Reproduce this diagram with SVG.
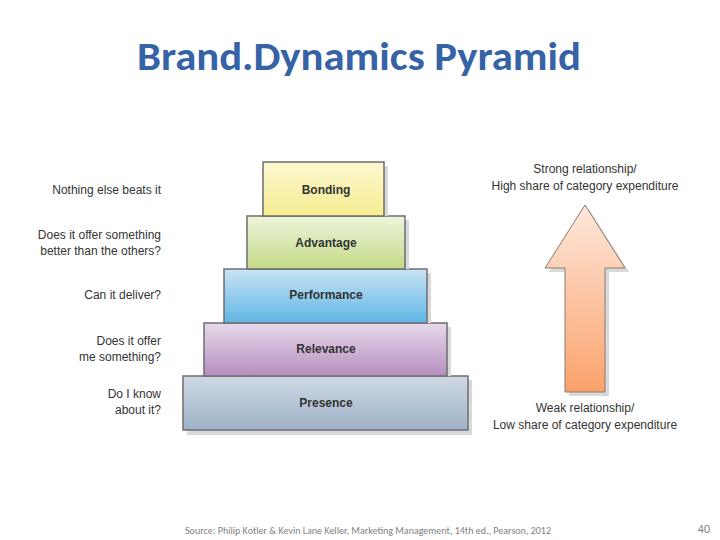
<svg xmlns="http://www.w3.org/2000/svg" width="720" height="540" viewBox="0 0 720 540">
<style>
.lay{stroke:#6d6e71;stroke-width:1.5}
.lt{font-family:"Liberation Sans",Arial,sans-serif;font-size:12px;font-weight:bold;fill:#333;text-anchor:middle}
.q{font-family:"Liberation Sans",Arial,sans-serif;font-size:12px;fill:#333;text-anchor:end}
.r{font-family:"Liberation Sans",Arial,sans-serif;font-size:12px;fill:#333;text-anchor:middle}
.sh{fill:#d9d9d9}
</style>
<defs>
<linearGradient id="g1" x1="0" y1="0" x2="0" y2="1"><stop offset="0" stop-color="#fdf8d0"/><stop offset="1" stop-color="#f6ec90"/></linearGradient>
<linearGradient id="g2" x1="0" y1="0" x2="0" y2="1"><stop offset="0" stop-color="#eef5dc"/><stop offset="1" stop-color="#c3da87"/></linearGradient>
<linearGradient id="g3" x1="0" y1="0" x2="0" y2="1"><stop offset="0" stop-color="#c9e4f5"/><stop offset="1" stop-color="#5fb6e4"/></linearGradient>
<linearGradient id="g4" x1="0" y1="0" x2="0" y2="1"><stop offset="0" stop-color="#e8d9ea"/><stop offset="1" stop-color="#b68fc0"/></linearGradient>
<linearGradient id="g5" x1="0" y1="0" x2="0" y2="1"><stop offset="0" stop-color="#cfd9e4"/><stop offset="1" stop-color="#9fb2c8"/></linearGradient>
<linearGradient id="ga" x1="0" y1="0" x2="0" y2="1"><stop offset="0" stop-color="#fde8dc"/><stop offset="1" stop-color="#fba26b"/></linearGradient>
</defs>
<text x="359" y="70" font-family="Calibri,Carlito,'Liberation Sans',sans-serif" font-size="40" font-weight="bold" fill="#3563a6" text-anchor="middle" textLength="444" lengthAdjust="spacingAndGlyphs">Brand.Dynamics Pyramid</text>
<g id="presence"><rect class="sh" x="187" y="380" width="285" height="55"/><rect class="lay" x="183" y="376" width="285" height="54" fill="url(#g5)"/><text class="lt" x="326" y="407">Presence</text></g>
<g id="relevance"><rect class="sh" x="208" y="327" width="243" height="49"/><rect class="lay" x="204" y="323" width="243" height="53" fill="url(#g4)"/><text class="lt" x="326" y="353">Relevance</text></g>
<g id="performance"><rect class="sh" x="228" y="273" width="203" height="50"/><rect class="lay" x="224" y="269" width="203" height="54" fill="url(#g3)"/><text class="lt" x="326" y="299">Performance</text></g>
<g id="advantage"><rect class="sh" x="251" y="220" width="158" height="49"/><rect class="lay" x="247" y="216" width="158" height="53" fill="url(#g2)"/><text class="lt" x="326" y="247">Advantage</text></g>
<g id="bonding"><rect class="sh" x="267" y="166" width="121" height="50"/><rect class="lay" x="263" y="162" width="121" height="54" fill="url(#g1)"/><text class="lt" x="326" y="194">Bonding</text></g>
<g id="questions">
<text class="q" x="161" y="194">Nothing else beats it</text>
<text class="q" x="161" y="239">Does it offer something</text>
<text class="q" x="161" y="255">better than the others?</text>
<text class="q" x="161" y="299">Can it deliver?</text>
<text class="q" x="161" y="345">Does it offer</text>
<text class="q" x="161" y="361">me something?</text>
<text class="q" x="161" y="398">Do I know</text>
<text class="q" x="161" y="414">about it?</text>
</g>
<g id="arrow">
<polygon points="589,209 629,272 609,272 609,396 569,396 569,272 549,272" fill="#d9d9d9"/>
<polygon points="585,205 625,268 605,268 605,392 565,392 565,268 545,268" fill="url(#ga)" stroke="#8a7a70" stroke-width="1"/>
<text class="r" x="585" y="173">Strong relationship/</text>
<text class="r" x="585" y="190">High share of category expenditure</text>
<text class="r" x="585" y="412">Weak relationship/</text>
<text class="r" x="585" y="429">Low share of category expenditure</text>
</g>
<text x="368" y="534" font-family="Calibri,Carlito,'Liberation Sans',sans-serif" font-size="10" fill="#7f7f7f" text-anchor="middle" textLength="366" lengthAdjust="spacingAndGlyphs">Source: Philip Kotler &amp; Kevin Lane Keller, Marketing Management, 14th ed., Pearson, 2012</text>
<text x="710" y="533" font-family="Calibri,Carlito,'Liberation Sans',sans-serif" font-size="12" fill="#7f7f7f" text-anchor="end">40</text>
</svg>
